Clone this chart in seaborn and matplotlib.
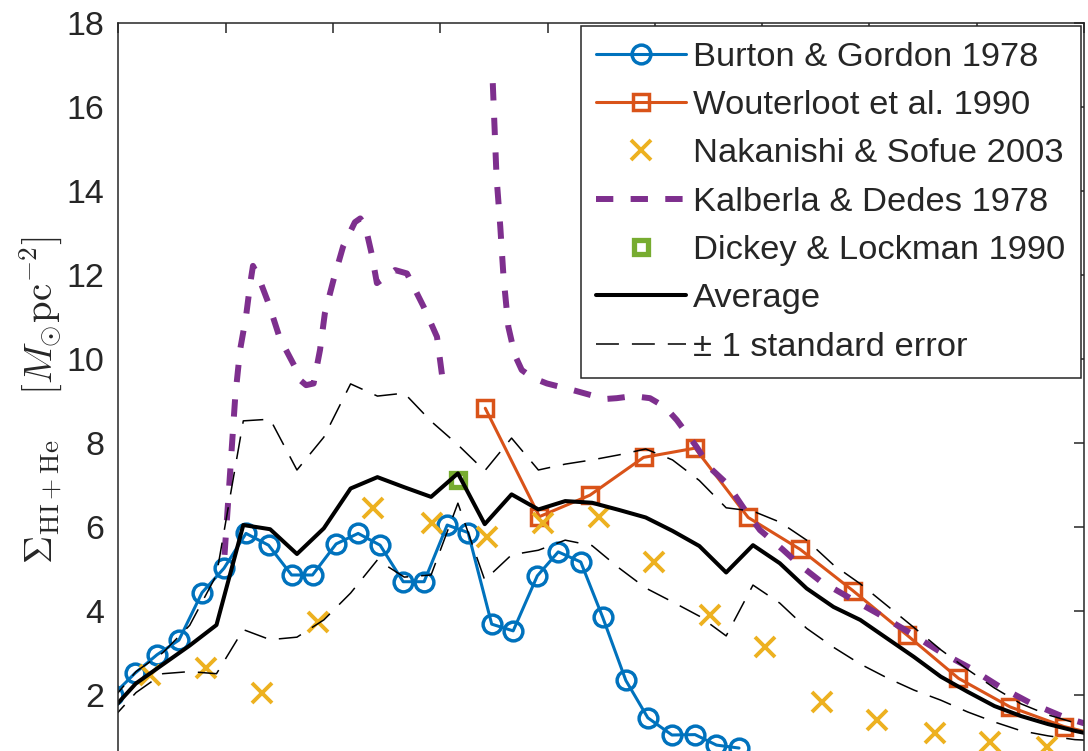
import numpy as np
import pandas as pd
import matplotlib
matplotlib.use("Agg")
import matplotlib.pyplot as plt
import seaborn as sns

# ---------------- data ----------------
bg_r = [1.90, 2.31, 2.72, 3.13, 3.56, 3.97, 4.38, 4.80, 5.23, 5.62, 6.06, 6.47, 6.88, 7.31,
        7.70, 8.13, 8.52, 8.96, 9.36, 9.81, 10.20, 10.62, 11.03, 11.46, 11.87, 12.32, 12.75,
        13.15, 13.57]
bg_sigma = [1.99, 2.51, 2.95, 3.30, 4.43, 5.01, 5.84, 5.56, 4.85, 4.85, 5.59, 5.84, 5.56, 4.69,
            4.69, 6.04, 5.86, 3.68, 3.52, 4.83, 5.40, 5.16, 3.84, 2.34, 1.45, 1.04, 1.05,
            0.80, 0.73]

wout_r = [8.84, 9.85, 10.79, 11.79, 12.75, 13.74, 14.71, 15.69, 16.70, 17.66, 18.62, 19.63, 20.60]
wout_sigma = [8.82, 6.24, 6.75, 7.65, 7.87, 6.22, 5.46, 4.48, 3.42, 2.39, 1.71, 1.24, 0.95]

nak_r = [2.59, 3.63, 4.68, 5.73, 6.75, 7.84, 8.87, 9.91, 10.96, 11.99, 13.03, 14.05, 15.11,
         16.14, 17.22, 18.25, 19.31]
nak_sigma = [2.47, 2.63, 2.03, 3.74, 6.44, 6.08, 5.76, 6.08, 6.24, 5.17, 3.90, 3.14, 1.83,
             1.40, 1.08, 0.88, 0.76]

kd_r_inner = [3.98, 4.18, 4.27, 4.38, 4.46, 4.51, 4.60, 4.80, 5.01, 5.29, 5.39, 5.50, 5.64,
              5.76, 5.85, 6.01, 6.19, 6.41, 6.51, 6.60, 6.72, 6.82, 6.94, 7.16, 7.38, 7.69,
              7.94, 8.03, 8.05]
kd_sigma_inner = [5.33, 9.10, 10.21, 11.00, 11.80, 12.21, 11.99, 11.32, 10.49, 9.81, 9.49, 9.37,
                  9.41, 10.21, 11.08, 11.87, 12.67, 13.25, 13.34, 13.18, 12.51, 11.80, 11.91,
                  12.11, 12.03, 11.24, 10.52, 9.65, 9.45]
kd_r_outer = [8.98, 9.05, 9.12, 9.18, 9.27, 9.39, 9.52, 9.73, 9.99, 10.48, 10.79, 11.07, 11.29,
              11.59, 11.91, 12.19, 12.41, 12.78, 13.03, 13.35, 13.68, 13.96, 14.39, 14.70,
              15.08, 15.64, 16.20, 16.76, 17.32, 17.87, 18.43, 18.99, 19.64, 20.00]
kd_sigma_outer = [16.56, 14.33, 13.14, 11.95, 10.76, 10.09, 9.73, 9.54, 9.41, 9.25, 9.14, 9.04,
                  9.06, 9.11, 9.06, 8.85, 8.54, 7.90, 7.40, 7.02, 6.40, 5.92, 5.45, 5.09, 4.71,
                  4.30, 3.90, 3.47, 3.02, 2.64, 2.19, 1.81, 1.46, 1.32]

dl_r = [8.33]
dl_sigma = [7.12]

avg_r = [1.83, 2.33, 2.83, 3.33, 3.83, 4.33, 4.83, 5.33, 5.83, 6.33, 6.83, 7.33, 7.83, 8.33,
         8.83, 9.33, 9.83, 10.33, 10.83, 11.33, 11.83, 12.33, 12.83, 13.33, 13.83, 14.33,
         14.83, 15.33, 15.83, 16.33, 16.83, 17.33, 17.83, 18.33, 18.83, 19.33, 19.83, 20.33]
avg_sigma = [1.57, 2.27, 2.72, 3.17, 3.66, 6.04, 5.94, 5.35, 5.96, 6.91, 7.18, 6.94, 6.71, 7.27,
             6.06, 6.77, 6.41, 6.61, 6.57, 6.40, 6.22, 5.90, 5.54, 4.91, 5.56, 5.13, 4.53,
             4.09, 3.78, 3.34, 2.90, 2.43, 2.07, 1.73, 1.49, 1.30, 1.14, 1.00]
upper_sigma = [1.80, 2.55, 3.00, 3.65, 4.85, 8.52, 8.56, 7.35, 8.13, 9.40, 9.11, 9.18, 8.51,
               7.95, 7.33, 8.11, 7.35, 7.49, 7.59, 7.71, 7.85, 7.59, 7.10, 6.45, 6.37, 6.11,
               5.68, 5.09, 4.64, 4.12, 3.60, 3.07, 2.60, 2.16, 1.78, 1.52, 1.33, 1.15]
lower_sigma = [1.35, 2.05, 2.50, 2.55, 2.50, 3.55, 3.31, 3.37, 3.78, 4.42, 5.21, 4.80, 4.85,
               6.56, 4.73, 5.33, 5.44, 5.68, 5.55, 5.02, 4.54, 4.21, 3.87, 3.40, 4.61, 4.18,
               3.58, 3.13, 2.73, 2.40, 2.11, 1.87, 1.59, 1.35, 1.14, 1.02, 0.93, 0.90]

y_ticks = [2, 4, 6, 8, 10, 12, 14, 16, 18]
x_ticks = [2, 4, 6, 8, 10, 12, 14, 16, 18, 20]

# ---------------- style ----------------
sns.set_style("white")
plt.rcParams["font.family"] = ["Liberation Sans", "DejaVu Sans"]
plt.rcParams["mathtext.fontset"] = "cm"

C_BLUE = "#0072BD"
C_ORANGE = "#D95319"
C_YELLOW = "#EDB120"
C_PURPLE = "#7E2F8E"
C_GREEN = "#77AC30"
C_AX = "#262626"

W, H = 1088, 751
fig = plt.figure(figsize=(W / 100, H / 100), dpi=100)
ax_left, ax_right, ax_top, ax_bot = 118.3, 1084.0, 22.7, 778.7
ax = fig.add_axes([ax_left / W, (H - ax_bot) / H, (ax_right - ax_left) / W, (ax_bot - ax_top) / H])

common = dict(ax=ax, sort=False, estimator=None)

sns.lineplot(x=bg_r, y=bg_sigma, color=C_BLUE, lw=2.2, marker="o", markersize=13.5,
             markerfacecolor="none", markeredgecolor=C_BLUE, markeredgewidth=2.5,
             label="Burton & Gordon 1978", **common)
sns.lineplot(x=wout_r, y=wout_sigma, color=C_ORANGE, lw=2.2, marker="s", markersize=11.5,
             markerfacecolor="none", markeredgecolor=C_ORANGE, markeredgewidth=2.5,
             label="Wouterloot et al. 1990", **common)
sns.lineplot(x=nak_r, y=nak_sigma, color=C_YELLOW, linestyle="none", marker="x",
             markersize=14.5, markeredgecolor=C_YELLOW, markeredgewidth=2.8,
             label="Nakanishi & Sofue 2003", **common)
sns.lineplot(x=kd_r_inner, y=kd_sigma_inner, color=C_PURPLE, lw=4.3, dashes=(2.9, 2.9),
             label="Kalberla & Dedes 1978", **common)
sns.lineplot(x=kd_r_outer, y=kd_sigma_outer, color=C_PURPLE, lw=4.3, dashes=(2.9, 2.9),
             **common)
sns.lineplot(x=dl_r, y=dl_sigma, color=C_GREEN, linestyle="none", marker="s", markersize=10,
             markerfacecolor="none", markeredgecolor=C_GREEN, markeredgewidth=3.8,
             label="Dickey & Lockman 1990", **common)
sns.lineplot(x=avg_r, y=avg_sigma, color="black", lw=2.9, label="Average", **common)
sns.lineplot(x=avg_r, y=upper_sigma, color="black", lw=1.1, dashes=(15, 8.5),
             label="± 1 standard error", **common)
sns.lineplot(x=avg_r, y=lower_sigma, color="black", lw=1.1, dashes=(15, 8.5), **common)

ax.set_xlim(2, 20)
ax.set_ylim(0, 18)
ax.set_xticks(x_ticks)
ax.set_yticks(y_ticks)
ax.set_xticklabels([])
ax.set_xlabel("")

for s in ax.spines.values():
    s.set_visible(True)
    s.set_color(C_AX)
    s.set_linewidth(1.1)
ax.tick_params(direction="in", top=True, right=True, length=7, width=1.1,
               colors=C_AX, labelsize=24.5, pad=10)

ax.set_ylabel(r"$\Sigma_{\mathrm{HI+He}}\quad\;[M_{\odot}\mathrm{pc}^{-2}]$",
              fontsize=28, color=C_AX)
ax.yaxis.set_label_coords(-0.0547, 0.5)

handles, labels = ax.get_legend_handles_labels()
leg = ax.legend(handles, labels, loc="upper right", bbox_to_anchor=(1.0, 1.0),
                borderaxespad=0.1, fontsize=24.8, frameon=True, fancybox=False,
                edgecolor=C_AX, framealpha=1, handlelength=2.6, handletextpad=0.2,
                labelspacing=0.5, borderpad=0.45, numpoints=1)
leg.get_frame().set_linewidth(1.1)

fig.savefig("out.png", dpi=100)
